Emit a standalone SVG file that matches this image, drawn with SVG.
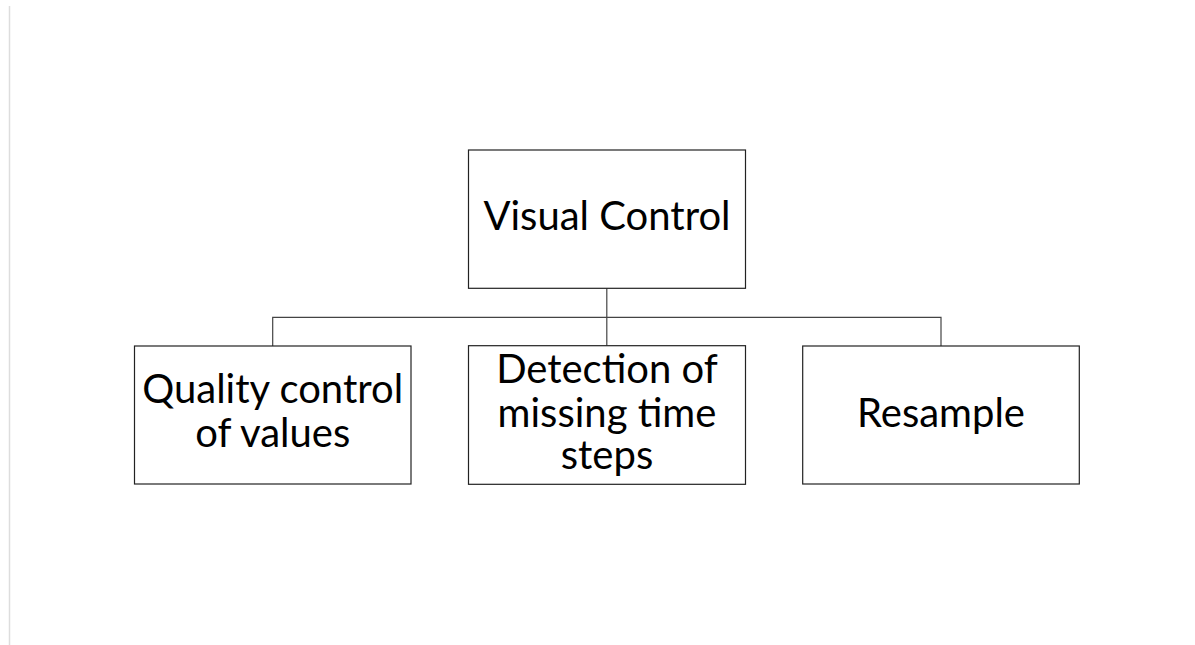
<svg xmlns="http://www.w3.org/2000/svg" width="1195" height="645" viewBox="0 0 1195 645">
<style>
.box{fill:#fff;stroke:#222;stroke-width:1.2}
.lbl{font-family:Lato,"Noto Sans",sans-serif;font-size:40px;fill:#000;text-anchor:middle}
.con{fill:none;stroke:#444;stroke-width:1.2}
</style>
<rect width="1195" height="645" fill="#fff"/>
<line x1="9.5" y1="6" x2="9.5" y2="645" stroke="#ddd" stroke-width="1.5"/>
<g id="connectors">
<path class="con" d="M606.8 288.3 V345.7"/>
<path class="con" d="M272.7 346 V317.3 H941 V346"/>
</g>
<g id="visual-control">
<rect class="box" x="468.5" y="150" width="277" height="138.3"/>
<text class="lbl" x="607" y="230">Visual Control</text>
</g>
<g id="quality-control">
<rect class="box" x="134.5" y="346" width="276.5" height="138"/>
<text class="lbl" x="272.7" y="403">Quality control</text>
<text class="lbl" x="272.7" y="446.7">of values</text>
</g>
<g id="detection">
<rect class="box" x="468.5" y="345.7" width="277" height="138.6"/>
<text class="lbl" x="607" y="382.7">Detection of</text>
<text class="lbl" x="607" y="426.5">missing time</text>
<text class="lbl" x="607" y="468.5">steps</text>
</g>
<g id="resample">
<rect class="box" x="802.7" y="346" width="276.6" height="138"/>
<text class="lbl" x="941" y="426.7">Resample</text>
</g>
</svg>
